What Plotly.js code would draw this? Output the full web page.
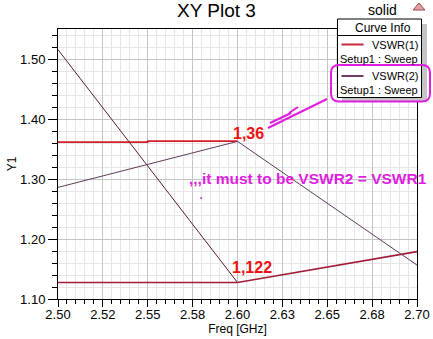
<!DOCTYPE html>
<html><head><meta charset="utf-8">
<script src="https://cdn.plot.ly/plotly-3.0.1.min.js"></script>
<style>html,body{margin:0;padding:0;background:#fff}#chart{width:433px;height:339px}</style>
</head><body><div id="chart"></div>
<script>
// ---- data ----
const freqTickVals = [2.500, 2.525, 2.550, 2.575, 2.600, 2.625, 2.650, 2.675, 2.700];
const freqTickText = ["2.50", "2.52", "2.55", "2.58", "2.60", "2.63", "2.65", "2.68", "2.70"];
const y1TickVals = [1.10, 1.20, 1.30, 1.40, 1.50];
const y1TickText = ["1.10", "1.20", "1.30", "1.40", "1.50"];

// VSWR(1) segments
const vswr1UpperFreq = [2.50, 2.55, 2.55, 2.60];
const vswr1UpperVal  = [1.3615, 1.3615, 1.3632, 1.3632];
const vswr1FallFreq  = [2.50, 2.60];
const vswr1FallVal   = [1.5155, 1.1275];
const vswr1LowerFreq = [2.50, 2.60, 2.70];
const vswr1LowerVal  = [1.1275, 1.1275, 1.1790];
// VSWR(2)
const vswr2Freq = [2.50, 2.60, 2.70];
const vswr2Val  = [1.2860, 1.3627, 1.1565];

const curveNames = ["VSWR(1)", "VSWR(2)"];
const sweepName = "Setup1 : Sweep";

// ---- layout helpers (pixel -> paper) ----
const W = 433, H = 339, ML = 58, MR = 16, MT = 29, MB = 40;
const PW = W - ML - MR, PH = H - MT - MB;
const px = x => (x - ML) / PW;
const py = y => (H - MB - y) / PH;

const RED = '#d41f2a', DARKRED = '#5e1a2c', MAROON = '#a21c38', PURPLE = '#5e3a5a';
const MAG = '#e01ee0';
const FONT = 'Arial, "Liberation Sans", sans-serif';

const traces = [
  {x: vswr1UpperFreq, y: vswr1UpperVal, mode: 'lines', line: {color: RED, width: 1.6}, name: curveNames[0], showlegend: false},
  {x: vswr1FallFreq, y: vswr1FallVal, mode: 'lines', line: {color: DARKRED, width: 1}, name: curveNames[0], showlegend: false},
  {x: vswr1LowerFreq, y: vswr1LowerVal, mode: 'lines', line: {color: MAROON, width: 1.6}, name: curveNames[0], showlegend: false},
  {x: vswr2Freq, y: vswr2Val, mode: 'lines', line: {color: PURPLE, width: 1}, name: curveNames[1], showlegend: false}
];

function rr(x0, y0, x1, y1, r) {
  const X0 = px(x0), X1 = px(x1), Y0 = py(y0), Y1 = py(y1);
  const rx = r / PW, ry = r / PH;
  return `M ${X0 + rx} ${Y0} L ${X1 - rx} ${Y0} Q ${X1} ${Y0} ${X1} ${Y0 - ry} L ${X1} ${Y1 + ry} Q ${X1} ${Y1} ${X1 - rx} ${Y1} L ${X0 + rx} ${Y1} Q ${X0} ${Y1} ${X0} ${Y1 + ry} L ${X0} ${Y0 - ry} Q ${X0} ${Y0} ${X0 + rx} ${Y0} Z`;
}
const pline = (x0, y0, x1, y1, color, width) => ({type: 'line', xref: 'paper', yref: 'paper', x0: px(x0), y0: py(y0), x1: px(x1), y1: py(y1), line: {color, width}, layer: 'above'});

const shapes = [
  // legend shadow + box
  {type: 'rect', xref: 'paper', yref: 'paper', x0: px(342), x1: px(427), y0: py(24), y1: py(102), fillcolor: '#c4c4c4', line: {width: 0}, layer: 'above'},
  {type: 'rect', xref: 'paper', yref: 'paper', x0: px(337.5), x1: px(421.5), y0: py(19), y1: py(97.5), fillcolor: '#ffffff', line: {color: '#000', width: 1}, layer: 'above'},
  pline(337.5, 35.5, 421.5, 35.5, '#000', 1),
  pline(341.5, 44.5, 363.5, 44.5, '#c8283a', 2),
  pline(341.5, 76, 363.5, 76, '#6e3e62', 2),
  // magenta highlight
  {type: 'path', xref: 'paper', yref: 'paper', path: rr(331, 65, 430, 101.5, 8), line: {color: MAG, width: 2}, layer: 'above'},
  // arrow
  pline(268, 128, 327, 99, MAG, 2),
  pline(270, 123, 291, 113, MAG, 2),
  pline(289, 113, 298, 107, MAG, 2),
  // dot
  {type: 'circle', xref: 'paper', yref: 'paper', x0: px(200.2), x1: px(202.2), y0: py(197), y1: py(199), fillcolor: MAG, line: {width: 0}, layer: 'above'},
  // logo icon
  {type: 'path', xref: 'paper', yref: 'paper', path: `M ${px(413)} ${py(10)} L ${px(419)} ${py(3)} L ${px(425)} ${py(10)} Z`, fillcolor: '#e0a0a0', line: {color: '#a04848', width: 1}, layer: 'above'}
];

const ann = (text, x, y, opts) => Object.assign({text, xref: 'paper', yref: 'paper', x: px(x), y: py(y), showarrow: false, xanchor: 'left', yanchor: 'middle', font: {family: FONT, size: 12, color: '#000'}}, opts || {});

const annotations = [
  ann('solid', 382.5, 10, {xanchor: 'center', font: {family: FONT, size: 14, color: '#000'}}),
  ann('Curve Info', 383, 27.5, {xanchor: 'center', font: {family: FONT, size: 12, color: '#000'}}),
  ann(curveNames[0], 420, 44.5, {xanchor: 'right', font: {family: FONT, size: 11, color: '#000'}}),
  ann(sweepName, 420, 59.5, {xanchor: 'right', font: {family: FONT, size: 11, color: '#000'}}),
  ann(curveNames[1], 420, 76, {xanchor: 'right', font: {family: FONT, size: 11, color: '#000'}}),
  ann(sweepName, 420, 89.5, {xanchor: 'right', font: {family: FONT, size: 11, color: '#000'}}),
  ann('<b>1,36</b>', 231, 133.5, {font: {family: FONT, size: 16, color: '#ee1111'}}),
  ann('<b>1,122</b>', 230, 267.5, {font: {family: FONT, size: 16, color: '#ee1111'}}),
  ann('<b>,,,it must to be VSWR2 = VSWR1</b>', 187, 178, {font: {family: FONT, size: 15.5, color: MAG}})
];

const layout = {
  width: W, height: H,
  margin: {l: ML, r: MR, t: MT, b: MB, pad: 0},
  paper_bgcolor: '#fff', plot_bgcolor: '#fff',
  font: {family: FONT, color: '#000'},
  title: {text: 'XY Plot 3', font: {family: FONT, size: 19, color: '#000'}, x: 0.5, xref: 'container', xanchor: 'center', y: 1 - 10.5 / H, yref: 'container', yanchor: 'middle'},
  showlegend: false,
  xaxis: {
    range: [2.5, 2.7], tickmode: 'array', tickvals: freqTickVals, ticktext: freqTickText,
    ticks: 'outside', ticklen: 7, tickcolor: '#000', tickwidth: 1, ticklabelstandoff: -4,
    showline: true, linecolor: '#000', linewidth: 1, mirror: true,
    showgrid: true, gridcolor: '#c4c4c4', gridwidth: 1, zeroline: false,
    tickfont: {family: FONT, size: 13, color: '#000'},
    minor: {tick0: 2.5, dtick: 0.005, ticks: 'outside', ticklen: 4, tickcolor: '#000', showgrid: true, gridcolor: '#e6e6e6', gridwidth: 1},
    title: {text: 'Freq [GHz]', font: {family: FONT, size: 12, color: '#000'}, standoff: 0}
  },
  yaxis: {
    range: [1.10, 1.55], tickmode: 'array', tickvals: y1TickVals, ticktext: y1TickText,
    ticks: 'outside', ticklen: 9, tickcolor: '#000', tickwidth: 1,
    showline: true, linecolor: '#000', linewidth: 1, mirror: true,
    showgrid: true, gridcolor: '#c4c4c4', gridwidth: 1, zeroline: false,
    tickfont: {family: FONT, size: 13, color: '#000'},
    minor: {tick0: 1.10, dtick: 0.02, ticks: 'outside', ticklen: 5, tickcolor: '#000', showgrid: true, gridcolor: '#e6e6e6', gridwidth: 1},
    title: {text: 'Y1', font: {family: FONT, size: 12, color: '#000'}, standoff: 0}
  },
  shapes, annotations
};

Plotly.newPlot('chart', traces, layout, {staticPlot: true, displayModeBar: false});
</script>
</body></html>
